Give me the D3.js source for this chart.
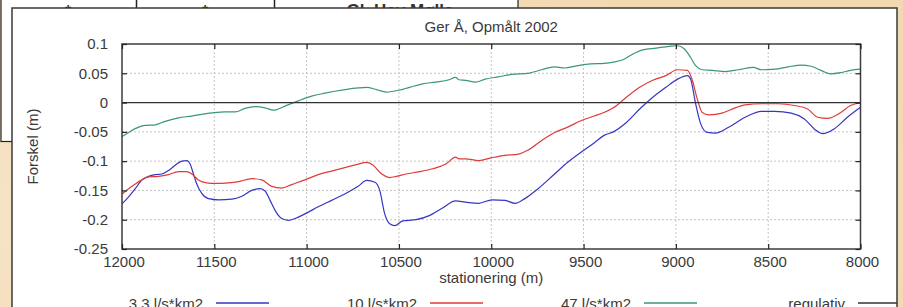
<!DOCTYPE html>
<html>
<head>
<meta charset="utf-8">
<script src="https://cdn.jsdelivr.net/npm/d3@7"></script>
<style>
  html, body { margin: 0; padding: 0; background: #f5e0bf; }
  svg { display: block; font-family: "Liberation Sans", Arial, sans-serif; }
</style>
</head>
<body>
<svg id="chart" width="903" height="307"></svg>
<script>
const title = "Ger Å, Opmålt 2002";
const xLabel = "stationering (m)";
const yLabel = "Forskel (m)";
const xTicks = [12000, 11500, 11000, 10500, 10000, 9500, 9000, 8500, 8000];
const yTicks = [0.1, 0.05, 0, -0.05, -0.1, -0.15, -0.2, -0.25];
const seriesNames = ["3.3 l/s*km2", "10 l/s*km2", "47 l/s*km2", "regulativ"];
const seriesColors = ["#3636c2", "#e03a3a", "#3a9777", "#333333"];

// [stationering, forskel]
const flow33 = [
  [12000, -0.173], [11964, -0.161], [11928, -0.147], [11892, -0.132], [11856, -0.126],
  [11820, -0.123], [11784, -0.122], [11748, -0.116], [11712, -0.107], [11676, -0.100],
  [11649, -0.099], [11631, -0.105], [11613, -0.122], [11595, -0.139], [11568, -0.155],
  [11532, -0.164], [11477, -0.166], [11405, -0.165], [11351, -0.160], [11297, -0.150],
  [11252, -0.147], [11225, -0.151], [11198, -0.167], [11171, -0.184], [11135, -0.198],
  [11099, -0.201], [11063, -0.198], [11009, -0.190], [10937, -0.178], [10865, -0.167],
  [10793, -0.156], [10721, -0.143], [10675, -0.133], [10630, -0.136], [10604, -0.150],
  [10577, -0.190], [10550, -0.207], [10523, -0.210], [10479, -0.202], [10407, -0.200],
  [10336, -0.193], [10264, -0.180], [10193, -0.168], [10139, -0.170], [10068, -0.172],
  [9996, -0.166], [9925, -0.167], [9871, -0.172], [9818, -0.164], [9746, -0.147],
  [9657, -0.122], [9586, -0.102], [9514, -0.085], [9443, -0.069], [9389, -0.056],
  [9339, -0.050], [9268, -0.034], [9196, -0.011], [9125, 0.009], [9054, 0.026],
  [8991, 0.040], [8937, 0.046], [8920, 0.040], [8893, -0.002], [8866, -0.036],
  [8830, -0.051], [8786, -0.052], [8714, -0.042], [8625, -0.025], [8536, -0.015],
  [8464, -0.015], [8375, -0.018], [8304, -0.028], [8250, -0.045], [8205, -0.053],
  [8143, -0.045], [8071, -0.025], [8000, -0.008]
];
const flow10 = [
  [12000, -0.156], [11964, -0.147], [11928, -0.139], [11892, -0.132], [11856, -0.127],
  [11802, -0.126], [11748, -0.123], [11694, -0.118], [11649, -0.118], [11622, -0.122],
  [11586, -0.132], [11541, -0.137], [11495, -0.138], [11423, -0.137], [11369, -0.135],
  [11297, -0.130], [11243, -0.132], [11189, -0.143], [11135, -0.146], [11081, -0.140],
  [11009, -0.132], [10937, -0.123], [10865, -0.117], [10793, -0.111], [10721, -0.105],
  [10675, -0.102], [10639, -0.107], [10604, -0.119], [10550, -0.128], [10514, -0.126],
  [10461, -0.122], [10389, -0.118], [10318, -0.113], [10246, -0.105], [10193, -0.093],
  [10175, -0.096], [10139, -0.096], [10068, -0.099], [9996, -0.094], [9925, -0.090],
  [9853, -0.088], [9800, -0.081], [9728, -0.065], [9657, -0.051], [9586, -0.042],
  [9514, -0.031], [9443, -0.023], [9389, -0.017], [9339, -0.009], [9268, 0.009],
  [9196, 0.026], [9125, 0.038], [9054, 0.046], [8991, 0.056], [8937, 0.055],
  [8911, 0.038], [8884, 0.006], [8857, -0.017], [8821, -0.021], [8750, -0.018],
  [8679, -0.009], [8625, -0.004], [8536, -0.002], [8446, -0.002], [8357, -0.005],
  [8286, -0.011], [8232, -0.025], [8179, -0.027], [8107, -0.017], [8054, -0.005],
  [8000, 0.000]
];
const flow47 = [
  [12000, -0.058], [11964, -0.051], [11910, -0.042], [11874, -0.039], [11820, -0.038],
  [11766, -0.032], [11694, -0.026], [11622, -0.023], [11568, -0.020], [11500, -0.017],
  [11441, -0.016], [11387, -0.016], [11333, -0.010], [11279, -0.007], [11225, -0.009],
  [11180, -0.013], [11117, -0.006], [11045, 0.003], [10973, 0.011], [10901, 0.016],
  [10793, 0.022], [10721, 0.025], [10675, 0.026], [10621, 0.022], [10568, 0.018],
  [10500, 0.021], [10443, 0.026], [10371, 0.032], [10300, 0.035], [10229, 0.039],
  [10193, 0.043], [10175, 0.039], [10139, 0.038], [10086, 0.035], [10032, 0.040],
  [9961, 0.044], [9889, 0.048], [9800, 0.050], [9728, 0.056], [9657, 0.061],
  [9604, 0.059], [9532, 0.063], [9461, 0.066], [9389, 0.067], [9339, 0.069],
  [9286, 0.073], [9232, 0.083], [9179, 0.090], [9107, 0.093], [9036, 0.096],
  [8991, 0.097], [8955, 0.092], [8920, 0.077], [8893, 0.063], [8857, 0.056],
  [8804, 0.055], [8732, 0.053], [8661, 0.056], [8580, 0.060], [8536, 0.056],
  [8464, 0.057], [8393, 0.061], [8321, 0.064], [8268, 0.062], [8214, 0.055],
  [8161, 0.049], [8107, 0.051], [8054, 0.055], [8000, 0.057]
];
const regulativ = [[12000, 0], [8000, 0]];

const series = [flow33, flow10, flow47, regulativ];

const svg = d3.select("#chart");

// paper background + table behind the figure
const defs = svg.append("defs");
const grad = defs.append("radialGradient").attr("id", "paper")
  .attr("cx", "30%").attr("cy", "70%").attr("r", "80%");
grad.append("stop").attr("offset", "0%").attr("stop-color", "#f8e9cf");
grad.append("stop").attr("offset", "100%").attr("stop-color", "#f2d9b2");
svg.append("rect").attr("width", 903).attr("height", 307).attr("fill", "url(#paper)");

const table = svg.append("g");
table.append("rect").attr("x", 1).attr("y", -20).attr("width", 517).attr("height", 161.5)
  .attr("fill", "#fff").attr("stroke", "#222").attr("stroke-width", 1.2);
[136.5, 274.5].forEach(x => table.append("line")
  .attr("x1", x).attr("x2", x).attr("y1", 0).attr("y2", 141)
  .attr("stroke", "#222").attr("stroke-width", 1.5));
table.append("text").attr("x", 68).attr("y", 17).attr("text-anchor", "middle")
  .attr("font-weight", "bold").attr("font-size", 16).attr("fill", "#333").text("*");
table.append("text").attr("x", 205).attr("y", 17).attr("text-anchor", "middle")
  .attr("font-weight", "bold").attr("font-size", 16).attr("fill", "#333").text("*");
table.append("text").attr("x", 400).attr("y", 16).attr("text-anchor", "middle")
  .attr("font-weight", "bold").attr("font-size", 17).attr("fill", "#333").text("Gl. Hav Mølle");

// figure panel
defs.append("clipPath").attr("id", "panelClip")
  .append("rect").attr("x", 12).attr("y", 8).attr("width", 885).attr("height", 320);
svg.append("rect").attr("x", 12).attr("y", 8).attr("width", 885).attr("height", 320)
  .attr("fill", "#fff").attr("stroke", "#3a3a3a").attr("stroke-width", 1.5);

const panel = svg.append("g").attr("clip-path", "url(#panelClip)");

const plot = { left: 122, top: 44, right: 860.5, bottom: 249 };

const x = d3.scaleLinear()
  .domain([12000, 8000])
  .range([plot.left, plot.right]);

const y = d3.scaleLinear()
  .domain([-0.25, 0.1])
  .range([plot.bottom, plot.top]);

// dotted grid
panel.append("g")
  .selectAll("line")
  .data(xTicks.slice(1, -1))
  .enter()
  .append("line")
  .attr("x1", d => x(d)).attr("x2", d => x(d))
  .attr("y1", plot.top).attr("y2", plot.bottom)
  .attr("stroke", "#c4c4c4").attr("stroke-dasharray", "2,2");

panel.append("g")
  .selectAll("line")
  .data(yTicks.slice(1, -1))
  .enter()
  .append("line")
  .attr("x1", plot.left).attr("x2", plot.right)
  .attr("y1", d => y(d)).attr("y2", d => y(d))
  .attr("stroke", "#c4c4c4").attr("stroke-dasharray", "2,2");

const line = d3.line()
  .x(d => x(d[0]))
  .y(d => y(d[1]))
  .curve(d3.curveMonotoneX);

series.forEach((s, i) => {
  panel.append("path")
    .datum(s)
    .attr("d", line)
    .style("fill", "none")
    .style("stroke", seriesColors[i])
    .style("stroke-width", i === 3 ? "1.3px" : "1.2px");
});

// frame
panel.append("rect")
  .attr("x", plot.left).attr("y", plot.top)
  .attr("width", plot.right - plot.left).attr("height", plot.bottom - plot.top)
  .attr("fill", "none").attr("stroke", "#3c3c3c").attr("stroke-width", 1.5);

// axes, ticks pointing inward
const fmt = d => String(d);

const yAxis = panel.append("g")
  .attr("transform", "translate(" + plot.left + ",0)")
  .call(d3.axisLeft(y).tickValues(yTicks).tickFormat(fmt).tickSize(-5).tickPadding(14));

const yAxisR = panel.append("g")
  .attr("transform", "translate(" + plot.right + ",0)")
  .call(d3.axisRight(y).tickValues(yTicks).tickFormat("").tickSize(-5));

const xAxis = panel.append("g")
  .attr("transform", "translate(0," + plot.bottom + ")")
  .call(d3.axisBottom(x).tickValues(xTicks).tickFormat(fmt).tickSize(-5).tickPadding(7));

const xAxisT = panel.append("g")
  .attr("transform", "translate(0," + plot.top + ")")
  .call(d3.axisTop(x).tickValues(xTicks).tickFormat("").tickSize(-5));

[yAxis, yAxisR, xAxis, xAxisT].forEach(a => {
  a.select(".domain").remove();
  a.selectAll("line").attr("stroke", "#222").attr("stroke-width", 1.2);
  a.selectAll("text")
    .attr("fill", "#3a3a3a")
    .style("font-family", "'Liberation Sans', Arial, sans-serif")
    .style("font-size", "15px");
});
xAxis.selectAll("text").attr("dx", 1.5);

// title and axis labels
panel.append("text")
  .attr("x", (plot.left + plot.right) / 2)
  .attr("y", 31.5)
  .attr("text-anchor", "middle")
  .attr("fill", "#3a3a3a")
  .style("font-size", "15px")
  .text(title);

panel.append("text")
  .attr("x", (plot.left + plot.right) / 2)
  .attr("y", 283)
  .attr("text-anchor", "middle")
  .attr("fill", "#3a3a3a")
  .style("font-size", "15px")
  .text(xLabel);

panel.append("text")
  .attr("transform", "rotate(-90)")
  .attr("x", -(plot.top + plot.bottom) / 2)
  .attr("y", 37.5)
  .attr("text-anchor", "middle")
  .attr("fill", "#3a3a3a")
  .style("font-size", "15px")
  .text(yLabel);

// legend
const legend = panel.append("g");
seriesNames.forEach((name, i) => {
  const tx = 203 + i * 214;
  legend.append("text")
    .attr("x", tx)
    .attr("y", 309)
    .attr("text-anchor", "end")
    .attr("fill", "#3a3a3a")
    .style("font-size", "15px")
    .text(name);
  legend.append("line")
    .attr("x1", tx + 13).attr("x2", tx + 66)
    .attr("y1", 303).attr("y2", 303)
    .attr("stroke", seriesColors[i])
    .attr("stroke-width", 1.5);
});
</script>
</body>
</html>
